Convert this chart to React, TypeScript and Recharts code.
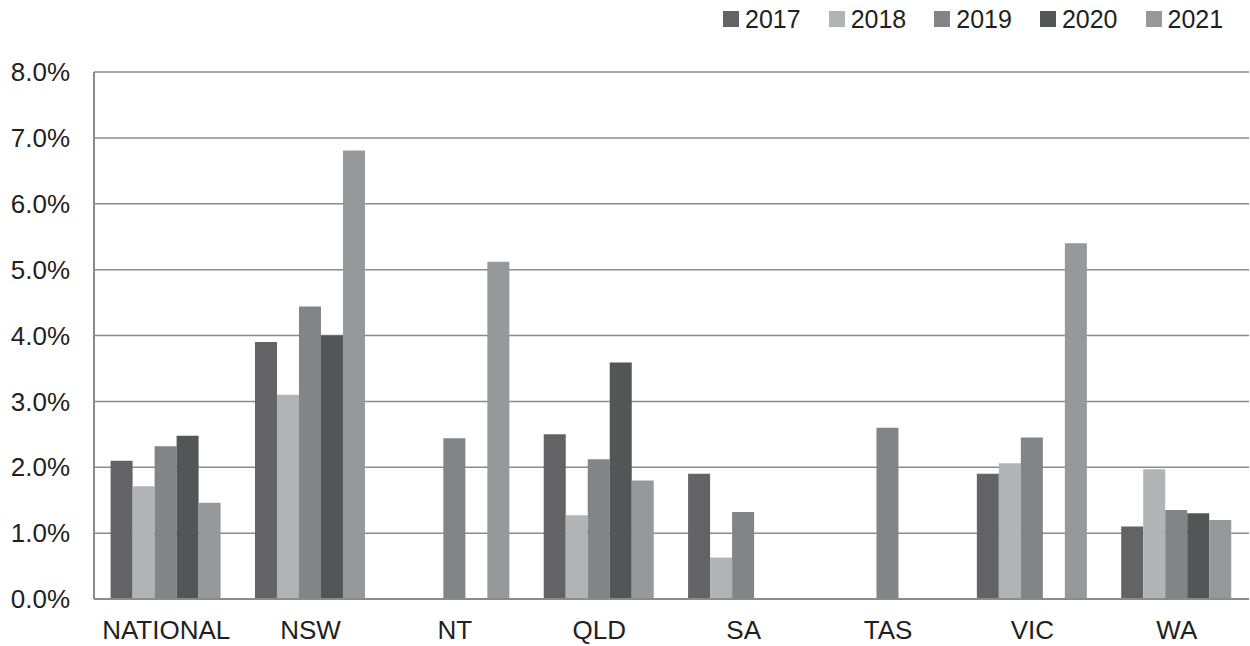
import React from 'react';
import {
  BarChart,
  Bar,
  XAxis,
  YAxis,
  CartesianGrid,
} from 'recharts';

const regions = ['NATIONAL', 'NSW', 'NT', 'QLD', 'SA', 'TAS', 'VIC', 'WA'];
const years = ['2017', '2018', '2019', '2020', '2021'];

const values2017 = [2.1, 3.9, null, 2.5, 1.9, null, 1.9, 1.1];
const values2018 = [1.71, 3.1, null, 1.27, 0.63, null, 2.06, 1.97];
const values2019 = [2.32, 4.44, 2.44, 2.12, 1.32, 2.6, 2.45, 1.35];
const values2020 = [2.48, 4.0, null, 3.59, null, null, null, 1.3];
const values2021 = [1.46, 6.81, 5.12, 1.8, null, null, 5.4, 1.2];

const yTicks = [0, 1, 2, 3, 4, 5, 6, 7, 8];

const colors = ['#636365', '#b2b3b6', '#838487', '#545557', '#97989b'];

const seriesValues = [values2017, values2018, values2019, values2020, values2021];

const data = regions.map((region, i) => {
  const row: Record<string, string | number | null> = { region };
  years.forEach((y, k) => {
    row[y] = seriesValues[k][i];
  });
  return row;
});

const FONT = 'Arial, "Liberation Sans", sans-serif';

// legend sits above the plot, top right, drawn outside recharts so it
// doesn't eat into the plot offset
function YearLegend() {
  return (
    <div
      style={{
        position: 'absolute',
        left: 723,
        top: 4,
        display: 'flex',
        fontFamily: FONT,
        fontSize: 25,
        lineHeight: '30px',
        color: '#231f20',
      }}
    >
      {years.map((y, k) => (
        <div key={y} style={{ display: 'flex', alignItems: 'center', marginRight: k < years.length - 1 ? 28 : 0 }}>
          <span style={{ width: 16, height: 16, background: colors[k], display: 'inline-block', marginRight: 6 }} />
          <span>{y}</span>
        </div>
      ))}
    </div>
  );
}

export default function App() {
  return (
    <div style={{ position: 'absolute', left: 0, top: 0, width: 1250, height: 646, background: '#fff' }}>
      <BarChart
        width={1250}
        height={646}
        data={data}
        margin={{ top: 72, right: 1, bottom: 0, left: 0 }}
        barCategoryGap="11.5%"
        barGap={0}
      >
        <CartesianGrid vertical={false} stroke="#8a8b8e" strokeWidth={1.5} />
        <XAxis
          dataKey="region"
          height={47}
          tickLine={false}
          tickSize={0}
          tickMargin={22}
          axisLine={{ stroke: '#8a8b8e', strokeWidth: 2 }}
          tick={{ fill: '#231f20', fontSize: 26, fontFamily: FONT }}
        />
        <YAxis
          width={94}
          domain={[0, 8]}
          ticks={yTicks}
          tickFormatter={(v: number) => `${v.toFixed(1)}%`}
          tickLine={false}
          tickSize={0}
          tickMargin={24}
          axisLine={{ stroke: '#8a8b8e', strokeWidth: 2 }}
          tick={{ fill: '#231f20', fontSize: 26, fontFamily: FONT }}
          interval={0}
        />
        {years.map((y, k) => (
          <Bar key={y} dataKey={y} fill={colors[k]} isAnimationActive={false} />
        ))}
      </BarChart>
      <YearLegend />
    </div>
  );
}
